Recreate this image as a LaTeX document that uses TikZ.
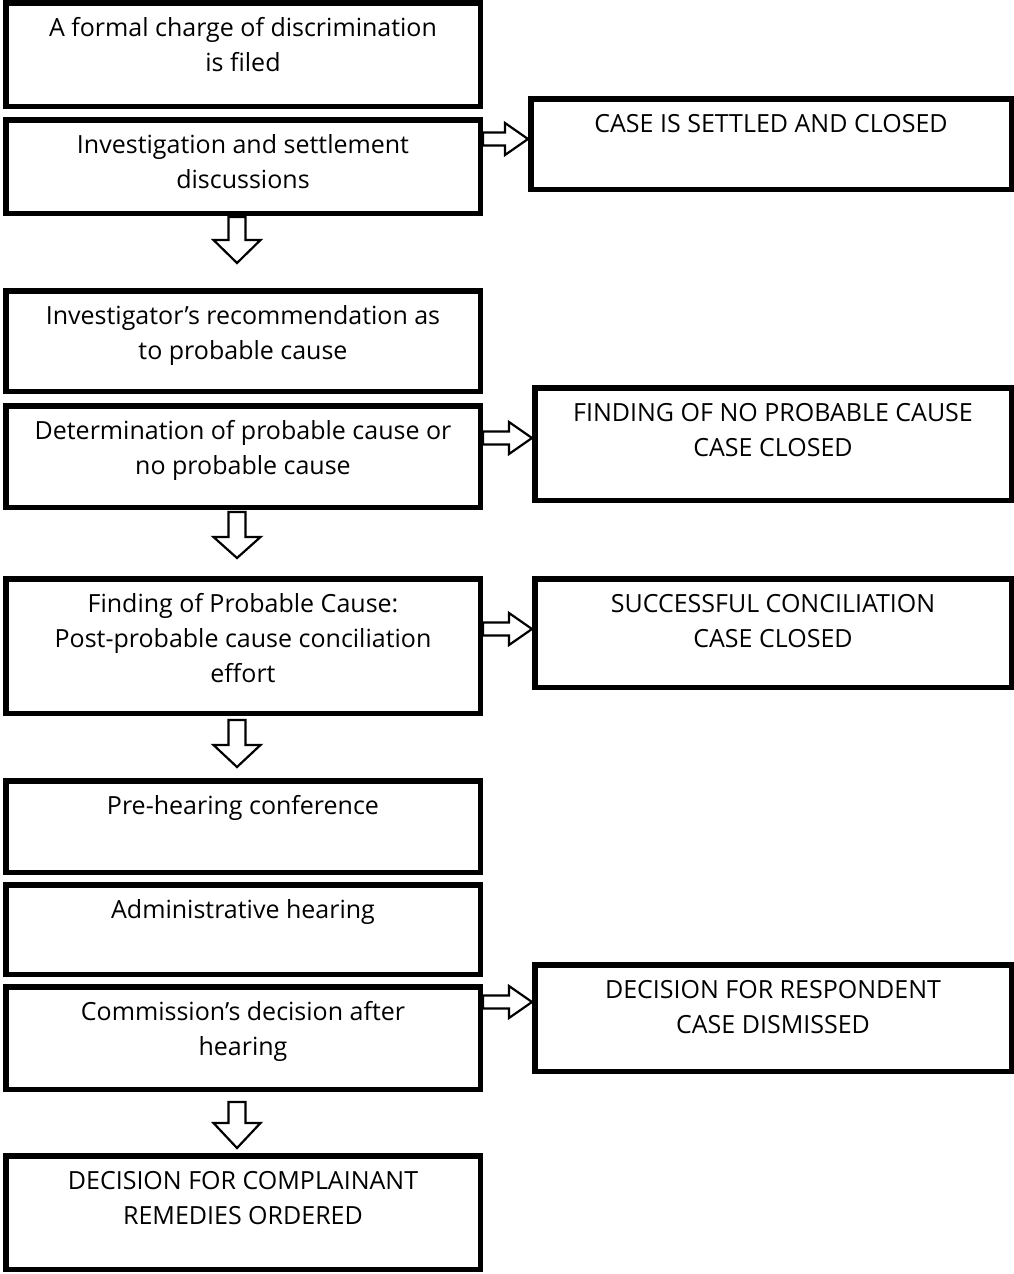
\documentclass[tikz,border=0pt]{standalone}
\usepackage{fontspec}
\setmainfont{Open Sans}
\usetikzlibrary{calc}
\newcommand\bxlw{5.5}
\newcommand\mkbox[6]{%
  \pgfmathsetmacro\bxw{#3-#2-\bxlw}%
  \pgfmathsetmacro\bxh{#5-#4-\bxlw}%
  \node[flowbox] (#1) at ({(#2+#3)/2},{(#4+#5)/2})
    {\parbox[c][\bxh pt][t]{\bxw pt}{\centering\rule{0pt}{33.25pt}#6\par}};}
\newcommand\rarr[3]{%
  \path (#1.east |- 0,#3) coordinate (rs) (#2.west |- 0,#3) coordinate (rt);
  \draw[barrow] ($(rs)+(2.75,-6.5)$) -- ($(rt)+(-25.75,-6.5)$) -- ($(rt)+(-25.75,-16)$)
    -- ($(rt)+(-2.75,0)$) -- ($(rt)+(-25.75,16)$) -- ($(rt)+(-25.75,6.5)$)
    -- ($(rs)+(2.75,6.5)$) -- cycle;}
\newcommand\darr[4]{%
  \path (237,0 |- #1.south) coordinate (ds);
  \draw[barrow] ($(ds)+(-8.5,{2.75+#2})$) -- ($(ds)+(8.5,{2.75+#2})$)
    -- ($(ds)+(8.5,{2.75+#3})$) -- ($(ds)+(23.5,{2.75+#3})$)
    -- ($(ds)+(0,{2.75+#4})$) -- ($(ds)+(-23.5,{2.75+#3})$)
    -- ($(ds)+(-8.5,{2.75+#3})$) -- cycle;}
\begin{document}
\begin{tikzpicture}[x=1pt,y=-1pt,
  flowbox/.style={draw=black,line width=5.5pt,inner sep=0pt,outer sep=0pt,fill=white,
    font=\fontsize{25pt}{35pt}\selectfont},
  barrow/.style={draw=black,line width=2.2pt,fill=white,line join=miter}]
\useasboundingbox[fill=white] (0,0) rectangle (1014,1274);
% left column
\mkbox{b1}{3}{483}{0}{109}{A formal charge of discrimination\\is filed}
\mkbox{b2}{3}{483}{117}{216}{Investigation and settlement\\discussions}
\mkbox{b3}{3}{483}{288}{394}{Investigator’s recommendation as\\to probable cause}
\mkbox{b4}{3}{483}{403}{510}{Determination of probable cause or\\no probable cause}
\mkbox{b5}{3}{483}{576}{716}{Finding of Probable Cause:\\Post-probable cause conciliation\\effort}
\mkbox{b6}{3}{483}{778}{875}{Pre-hearing conference}
\mkbox{b7}{3}{483}{882}{977}{Administrative hearing}
\mkbox{b8}{3}{483}{984}{1092}{Commission’s decision after\\hearing}
\mkbox{b9}{3}{483}{1153}{1272}{DECISION FOR COMPLAINANT\\REMEDIES ORDERED}
% right column
\mkbox{r1}{528}{1014}{96}{192}{CASE IS SETTLED AND CLOSED}
\mkbox{r2}{532}{1014}{385}{503}{FINDING OF NO PROBABLE CAUSE\\CASE CLOSED}
\mkbox{r3}{532}{1014}{576}{690}{SUCCESSFUL CONCILIATION\\CASE CLOSED}
\mkbox{r4}{532}{1014}{962}{1074}{DECISION FOR RESPONDENT\\CASE DISMISSED}
% arrows
\rarr{b2}{r1}{139}
\rarr{b4}{r2}{438}
\rarr{b5}{r3}{629}
\rarr{b8}{r4}{1002}
\darr{b2}{1}{24}{47}
\darr{b4}{2}{27}{48}
\darr{b5}{4}{29}{51}
\darr{b8}{10}{31}{56}
\end{tikzpicture}
\end{document}
